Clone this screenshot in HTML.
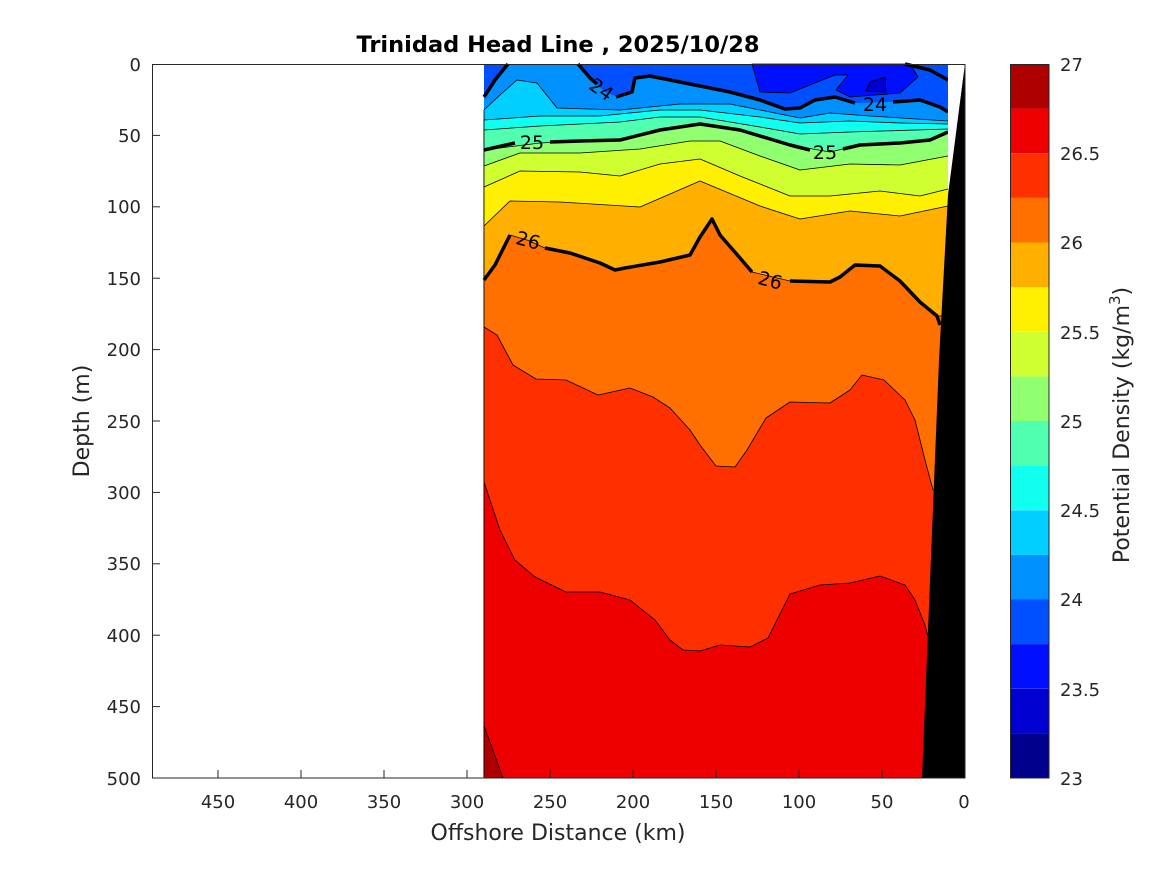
<!DOCTYPE html>
<html><head><meta charset="utf-8"><style>
body{margin:0;background:#fff;}
svg text{font-family:"DejaVu Sans","Liberation Sans",sans-serif;fill:#262626;}
</style></head><body>
<svg width="1167" height="875" viewBox="0 0 1167 875" xmlns="http://www.w3.org/2000/svg">
<rect width="1167" height="875" fill="#fff"/>
<text x="558" y="52" font-size="22.5" font-weight="bold" text-anchor="middle" style="fill:#000">Trinidad Head Line , 2025/10/28</text>
<g stroke="#000" stroke-width="0.8" stroke-linejoin="round">
<rect x="484" y="64" width="481" height="714" fill="#0050FF" stroke="none"/>
<polygon fill="#0010FF" points="752,64 760,92 790,93 835,75 848,75 836,90 850,97 900,93 918,77 910,64"/>
<polygon fill="#0000D0" points="870,82 885,77 886,92 866,91"/>
<polygon fill="#0090FF" stroke="none" points="484,97 495,80 508,64 578,64 590,78 605,92 618,97 632,92 635,78 650,76 700,86 730,92 760,100 785,109 800,108 815,100 835,97 855,103 890,102 920,100 940,107 948,112 965,112 965,778 484,778"/>
<polygon fill="#00CFFF" points="484,110 500,95 517,80 537,83 557,108 620,110 680,104 730,104 760,110 800,118 830,113 870,116 948,121 965,121 965,778 484,778"/>
<polygon fill="#10FFEF" points="484,120 540,116 600,116 660,110 700,110 760,117 800,123 850,121 900,123 948,124 965,124 965,778 484,778"/>
<polygon fill="#50FFAF" points="484,130 540,126 620,122 660,117 700,117 760,127 800,134 850,132 948,129 965,129 965,778 484,778"/>
<polygon fill="#90FF70" points="484,150 540,143 580,141 620,140 660,130 700,124 740,130 790,145 830,152 860,145 900,143 930,140 948,132 965,132 965,778 484,778"/>
<polygon fill="#CFFF30" points="484,166 520,153 580,153 640,149 690,141 720,141 760,156 800,170 850,164 900,165 948,156 965,156 965,778 484,778"/>
<polygon fill="#FFEF00" points="484,187 520,171 580,172 620,176 660,164 700,159 740,176 790,196 830,196 880,191 920,196 948,189 965,189 965,778 484,778"/>
<polygon fill="#FFAF00" points="484,226 510,201 560,202 640,207 700,181 760,206 800,219 850,211 900,216 948,206 965,206 965,778 484,778"/>
<polygon fill="#FF7000" points="484,280 495,265 510,235 527,240 545,248 570,253 600,263 615,270 625,268 660,262 690,255 700,237 712,219 720,235 740,258 752,272 790,281 830,282 840,277 855,265 880,266 900,281 920,302 937,316 965,316 965,778 484,778"/>
<polygon fill="#FF3000" points="484,327 497,335 513,365 536,379 566,380 598,395 630,388 653,397 670,408 690,430 700,445 716,466 735,467 747,450 766,418 790,402 830,403 850,390 862,375 884,380 905,400 915,420 925,460 933,490 965,490 965,778 484,778"/>
<polygon fill="#EF0000" points="484,482 500,530 515,560 535,577 566,592 600,592 630,600 655,620 670,640 683,650 700,651 720,645 750,647 768,638 790,594 820,585 850,583 880,576 905,585 915,600 925,625 930,645 965,645 965,778 484,778"/>
<polygon fill="#AF0000" points="484,726 503,778 484,778"/>
</g>
<g fill="none" stroke="#000" stroke-width="3.5" stroke-linejoin="round">
<polyline points="484,97 495,80 508,64"/>
<polyline points="578,64 590,78 597,84"/>
<polyline points="616,97 632,92 635,78 650,76 700,86 730,92 760,100 785,109 800,108 815,100 835,97 855,103"/>
<polyline points="893,102 920,100 940,107 948,112"/>
<polyline points="905,64 930,70 948,80"/>
<polyline points="484,150 515,143"/>
<polyline points="550,142 580,141 620,140 660,130 700,124 740,130 790,145 810,150"/>
<polyline points="843,149 860,145 900,143 930,140 948,132"/>
<polyline points="484,280 495,265 510,235"/>
<polyline points="545,248 570,253 600,263 615,270 625,268 660,262 690,255 700,237 712,219 720,235 740,258 752,272"/>
<polyline points="790,281 830,282 840,277 855,265 880,266 900,281 920,302 937,316 940,325"/>
</g>
<g font-size="19">
<text x="601" y="96" transform="rotate(35 601 90)" text-anchor="middle" style="fill:#000">24</text>
<text x="875" y="111" text-anchor="middle" style="fill:#000">24</text>
<text x="532" y="149" text-anchor="middle" style="fill:#000">25</text>
<text x="825" y="159" text-anchor="middle" style="fill:#000">25</text>
<text x="528" y="247" transform="rotate(15 528 241)" text-anchor="middle" style="fill:#000">26</text>
<text x="770" y="287" transform="rotate(15 770 281)" text-anchor="middle" style="fill:#000">26</text>
</g>
<polygon fill="#fff" points="948,64 965,64 948,195"/>
<polygon fill="#000" points="965,64 948,195 939,360 922,778 965,778"/>
<rect x="152.5" y="64.5" width="812.5" height="713.5" fill="none" stroke="#262626" stroke-width="1"/>
<g stroke="#262626" stroke-width="1">
<line x1="218" y1="778" x2="218" y2="770"/><line x1="301" y1="778" x2="301" y2="770"/><line x1="384" y1="778" x2="384" y2="770"/><line x1="467" y1="778" x2="467" y2="770"/><line x1="550" y1="778" x2="550" y2="770"/><line x1="633" y1="778" x2="633" y2="770"/><line x1="716" y1="778" x2="716" y2="770"/><line x1="799" y1="778" x2="799" y2="770"/><line x1="882" y1="778" x2="882" y2="770"/>
<line x1="152" y1="135.4" x2="160" y2="135.4"/><line x1="152" y1="206.8" x2="160" y2="206.8"/><line x1="152" y1="278.2" x2="160" y2="278.2"/><line x1="152" y1="349.6" x2="160" y2="349.6"/><line x1="152" y1="421" x2="160" y2="421"/><line x1="152" y1="492.4" x2="160" y2="492.4"/><line x1="152" y1="563.8" x2="160" y2="563.8"/><line x1="152" y1="635.2" x2="160" y2="635.2"/><line x1="152" y1="706.6" x2="160" y2="706.6"/>
</g>
<g font-size="18" text-anchor="middle">
<text x="218" y="808">450</text><text x="301" y="808">400</text><text x="384" y="808">350</text><text x="467" y="808">300</text><text x="550" y="808">250</text><text x="633" y="808">200</text><text x="716" y="808">150</text><text x="799" y="808">100</text><text x="882" y="808">50</text><text x="964" y="808">0</text>
</g>
<g font-size="18" text-anchor="end">
<text x="141" y="71">0</text><text x="141" y="142">50</text><text x="141" y="213">100</text><text x="141" y="285">150</text><text x="141" y="356">200</text><text x="141" y="428">250</text><text x="141" y="499">300</text><text x="141" y="570">350</text><text x="141" y="642">400</text><text x="141" y="713">450</text><text x="141" y="785">500</text>
</g>
<text x="558" y="840" font-size="22" text-anchor="middle">Offshore Distance (km)</text>
<text x="89" y="421" font-size="22" text-anchor="middle" transform="rotate(-90 89 421)">Depth (m)</text>
<g stroke="none">
<rect x="1010" y="733.4" width="39" height="44.6" fill="#00008C"/>
<rect x="1010" y="688.8" width="39" height="44.6" fill="#0000D0"/>
<rect x="1010" y="644.1" width="39" height="44.6" fill="#0010FF"/>
<rect x="1010" y="599.5" width="39" height="44.6" fill="#0050FF"/>
<rect x="1010" y="554.9" width="39" height="44.6" fill="#0090FF"/>
<rect x="1010" y="510.3" width="39" height="44.6" fill="#00CFFF"/>
<rect x="1010" y="465.6" width="39" height="44.6" fill="#10FFEF"/>
<rect x="1010" y="421" width="39" height="44.6" fill="#50FFAF"/>
<rect x="1010" y="376.4" width="39" height="44.6" fill="#90FF70"/>
<rect x="1010" y="331.8" width="39" height="44.6" fill="#CFFF30"/>
<rect x="1010" y="287.1" width="39" height="44.6" fill="#FFEF00"/>
<rect x="1010" y="242.5" width="39" height="44.6" fill="#FFAF00"/>
<rect x="1010" y="197.9" width="39" height="44.6" fill="#FF7000"/>
<rect x="1010" y="153.3" width="39" height="44.6" fill="#FF3000"/>
<rect x="1010" y="108.6" width="39" height="44.6" fill="#EF0000"/>
<rect x="1010" y="64" width="39" height="44.6" fill="#AF0000"/>
</g>
<rect x="1010.5" y="64.5" width="38.5" height="713.5" fill="none" stroke="#262626" stroke-width="1"/>
<g font-size="18">
<text x="1060" y="785">23</text><text x="1060" y="696">23.5</text><text x="1060" y="606">24</text><text x="1060" y="517">24.5</text><text x="1060" y="428">25</text><text x="1060" y="339">25.5</text><text x="1060" y="249">26</text><text x="1060" y="160">26.5</text><text x="1060" y="71">27</text>
</g>
<text x="1129" y="425" font-size="22" text-anchor="middle" transform="rotate(-90 1129 425)">Potential Density (kg/m<tspan baseline-shift="super" font-size="15">3</tspan>)</text>
</svg>
</body></html>
